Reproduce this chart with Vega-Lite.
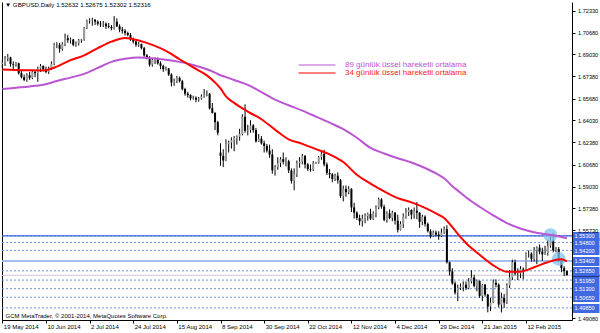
{
"$schema": "https://vega.github.io/schema/vega-lite/v6.json",
"width": 570, "height": 318,
"autosize": {"type": "none"},
"padding": {"left": 2, "top": 2, "right": 28, "bottom": 13},
"background": "white",
"config": {"view": {"stroke": null}, "font": "Liberation Sans", "axis": {"grid": false}},
"title": {"text": "▼ GBPUSD,Daily  1.52632 1.52675 1.52302 1.52316", "anchor": "start", "frame": "group", "offset": -11, "baseline": "alphabetic", "font": "Liberation Sans", "fontSize": 6.2, "fontWeight": "normal", "color": "#000", "dx": 3},
"datasets": {
"levels": [{"level":1.553},{"level":1.548},{"level":1.542},{"level":1.534},{"level":1.5265},{"level":1.5195},{"level":1.513},{"level":1.5065},{"level":1.4985}],
"marks": [{"d":"2015-02-25","p":1.5535},{"d":"2015-03-02","p":1.5355}],
"ema": [
{"d":"2014-05-19","e34":1.6789,"e89":1.6640},
{"d":"2014-05-26","e34":1.6785,"e89":1.6650},
{"d":"2014-06-02","e34":1.6782,"e89":1.6660},
{"d":"2014-06-09","e34":1.6781,"e89":1.6673},
{"d":"2014-06-16","e34":1.6810,"e89":1.6701},
{"d":"2014-06-23","e34":1.6859,"e89":1.6727},
{"d":"2014-06-30","e34":1.6895,"e89":1.6755},
{"d":"2014-07-07","e34":1.6950,"e89":1.6800},
{"d":"2014-07-14","e34":1.6999,"e89":1.6846},
{"d":"2014-07-21","e34":1.7027,"e89":1.6869},
{"d":"2014-07-28","e34":1.7008,"e89":1.6879},
{"d":"2014-08-04","e34":1.6975,"e89":1.6873},
{"d":"2014-08-11","e34":1.6930,"e89":1.6862},
{"d":"2014-08-18","e34":1.6866,"e89":1.6846},
{"d":"2014-08-25","e34":1.6804,"e89":1.6823},
{"d":"2014-09-01","e34":1.6744,"e89":1.6790},
{"d":"2014-09-04","e34":1.6690,"e89":1.6765},
{"d":"2014-09-08","e34":1.6645,"e89":1.6745},
{"d":"2014-09-10","e34":1.6585,"e89":1.6731},
{"d":"2014-09-15","e34":1.6536,"e89":1.6709},
{"d":"2014-09-22","e34":1.6470,"e89":1.6672},
{"d":"2014-09-29","e34":1.6412,"e89":1.6618},
{"d":"2014-10-06","e34":1.6333,"e89":1.6560},
{"d":"2014-10-13","e34":1.6260,"e89":1.6518},
{"d":"2014-10-20","e34":1.6226,"e89":1.6477},
{"d":"2014-10-26","e34":1.6186,"e89":1.6432},
{"d":"2014-10-31","e34":1.6146,"e89":1.6386},
{"d":"2014-11-07","e34":1.6088,"e89":1.6337},
{"d":"2014-11-14","e34":1.5992,"e89":1.6272},
{"d":"2014-11-21","e34":1.5925,"e89":1.6195},
{"d":"2014-11-28","e34":1.5866,"e89":1.6153},
{"d":"2014-12-05","e34":1.5815,"e89":1.6117},
{"d":"2014-12-12","e34":1.5783,"e89":1.6085},
{"d":"2014-12-19","e34":1.5742,"e89":1.6043},
{"d":"2014-12-29","e34":1.5689,"e89":1.5991},
{"d":"2014-12-31","e34":1.5665,"e89":1.5965},
{"d":"2015-01-06","e34":1.5595,"e89":1.5905},
{"d":"2015-01-08","e34":1.5545,"e89":1.5872},
{"d":"2015-01-13","e34":1.5476,"e89":1.5822},
{"d":"2015-01-20","e34":1.5387,"e89":1.5750},
{"d":"2015-01-27","e34":1.5307,"e89":1.5685},
{"d":"2015-02-03","e34":1.5259,"e89":1.5626},
{"d":"2015-02-10","e34":1.5259,"e89":1.5585},
{"d":"2015-02-17","e34":1.5292,"e89":1.5557},
{"d":"2015-02-24","e34":1.5330,"e89":1.5540},
{"d":"2015-03-03","e34":1.5352,"e89":1.5521},
{"d":"2015-03-05","e34":1.5336,"e89":1.5511}
],
"bars": [
{"d":"2014-05-19","o":1.6830,"h":1.6860,"l":1.6800,"c":1.6840},
{"d":"2014-05-20","o":1.6840,"h":1.6890,"l":1.6815,"c":1.6870},
{"d":"2014-05-21","o":1.6870,"h":1.6905,"l":1.6850,"c":1.6880},
{"d":"2014-05-22","o":1.6880,"h":1.6885,"l":1.6810,"c":1.6830},
{"d":"2014-05-23","o":1.6830,"h":1.6850,"l":1.6780,"c":1.6825},
{"d":"2014-05-26","o":1.6825,"h":1.6845,"l":1.6810,"c":1.6835},
{"d":"2014-05-27","o":1.6835,"h":1.6840,"l":1.6750,"c":1.6760},
{"d":"2014-05-28","o":1.6760,"h":1.6780,"l":1.6720,"c":1.6730},
{"d":"2014-05-29","o":1.6730,"h":1.6750,"l":1.6700,"c":1.6710},
{"d":"2014-05-30","o":1.6710,"h":1.6760,"l":1.6695,"c":1.6745},
{"d":"2014-06-02","o":1.6745,"h":1.6770,"l":1.6710,"c":1.6725},
{"d":"2014-06-03","o":1.6725,"h":1.6785,"l":1.6715,"c":1.6770},
{"d":"2014-06-04","o":1.6770,"h":1.6780,"l":1.6730,"c":1.6760},
{"d":"2014-06-05","o":1.6760,"h":1.6810,"l":1.6695,"c":1.6795},
{"d":"2014-06-06","o":1.6795,"h":1.6830,"l":1.6770,"c":1.6815},
{"d":"2014-06-09","o":1.6815,"h":1.6820,"l":1.6775,"c":1.6790},
{"d":"2014-06-10","o":1.6790,"h":1.6810,"l":1.6760,"c":1.6770},
{"d":"2014-06-11","o":1.6770,"h":1.6810,"l":1.6755,"c":1.6795},
{"d":"2014-06-12","o":1.6795,"h":1.6850,"l":1.6785,"c":1.6830},
{"d":"2014-06-13","o":1.6830,"h":1.6990,"l":1.6820,"c":1.6975},
{"d":"2014-06-16","o":1.6975,"h":1.6995,"l":1.6950,"c":1.6975},
{"d":"2014-06-17","o":1.6975,"h":1.6990,"l":1.6915,"c":1.6945},
{"d":"2014-06-18","o":1.6945,"h":1.6995,"l":1.6930,"c":1.6980},
{"d":"2014-06-19","o":1.6980,"h":1.7060,"l":1.6965,"c":1.7025},
{"d":"2014-06-20","o":1.7025,"h":1.7050,"l":1.6990,"c":1.7010},
{"d":"2014-06-23","o":1.7010,"h":1.7030,"l":1.6985,"c":1.7015},
{"d":"2014-06-24","o":1.7015,"h":1.7020,"l":1.6965,"c":1.6975},
{"d":"2014-06-25","o":1.6975,"h":1.7000,"l":1.6960,"c":1.6985},
{"d":"2014-06-26","o":1.6985,"h":1.7020,"l":1.6970,"c":1.7010},
{"d":"2014-06-27","o":1.7010,"h":1.7020,"l":1.6990,"c":1.7015},
{"d":"2014-06-30","o":1.7015,"h":1.7110,"l":1.7005,"c":1.7105},
{"d":"2014-07-01","o":1.7105,"h":1.7165,"l":1.7095,"c":1.7155},
{"d":"2014-07-02","o":1.7155,"h":1.7175,"l":1.7135,"c":1.7160},
{"d":"2014-07-03","o":1.7160,"h":1.7180,"l":1.7120,"c":1.7165},
{"d":"2014-07-04","o":1.7165,"h":1.7170,"l":1.7125,"c":1.7150},
{"d":"2014-07-07","o":1.7150,"h":1.7160,"l":1.7120,"c":1.7135},
{"d":"2014-07-08","o":1.7135,"h":1.7155,"l":1.7110,"c":1.7130},
{"d":"2014-07-09","o":1.7130,"h":1.7155,"l":1.7110,"c":1.7135},
{"d":"2014-07-10","o":1.7135,"h":1.7145,"l":1.7095,"c":1.7115},
{"d":"2014-07-11","o":1.7115,"h":1.7140,"l":1.7100,"c":1.7110},
{"d":"2014-07-14","o":1.7110,"h":1.7125,"l":1.7085,"c":1.7100},
{"d":"2014-07-15","o":1.7100,"h":1.7192,"l":1.7090,"c":1.7150},
{"d":"2014-07-16","o":1.7150,"h":1.7175,"l":1.7110,"c":1.7115},
{"d":"2014-07-17","o":1.7115,"h":1.7130,"l":1.7070,"c":1.7090},
{"d":"2014-07-18","o":1.7090,"h":1.7110,"l":1.7060,"c":1.7080},
{"d":"2014-07-21","o":1.7080,"h":1.7095,"l":1.7045,"c":1.7065},
{"d":"2014-07-22","o":1.7065,"h":1.7075,"l":1.7040,"c":1.7050},
{"d":"2014-07-23","o":1.7050,"h":1.7065,"l":1.7005,"c":1.7015},
{"d":"2014-07-24","o":1.7015,"h":1.7030,"l":1.6985,"c":1.7000},
{"d":"2014-07-25","o":1.7000,"h":1.7010,"l":1.6960,"c":1.6975},
{"d":"2014-07-28","o":1.6975,"h":1.6995,"l":1.6960,"c":1.6980},
{"d":"2014-07-29","o":1.6980,"h":1.6985,"l":1.6940,"c":1.6950},
{"d":"2014-07-30","o":1.6950,"h":1.6960,"l":1.6885,"c":1.6895},
{"d":"2014-07-31","o":1.6895,"h":1.6905,"l":1.6865,"c":1.6875},
{"d":"2014-08-01","o":1.6875,"h":1.6890,"l":1.6810,"c":1.6825},
{"d":"2014-08-04","o":1.6825,"h":1.6875,"l":1.6810,"c":1.6860},
{"d":"2014-08-05","o":1.6860,"h":1.6880,"l":1.6830,"c":1.6870},
{"d":"2014-08-06","o":1.6870,"h":1.6880,"l":1.6825,"c":1.6835},
{"d":"2014-08-07","o":1.6835,"h":1.6850,"l":1.6790,"c":1.6815},
{"d":"2014-08-08","o":1.6815,"h":1.6825,"l":1.6770,"c":1.6790},
{"d":"2014-08-11","o":1.6790,"h":1.6810,"l":1.6780,"c":1.6795},
{"d":"2014-08-12","o":1.6795,"h":1.6800,"l":1.6740,"c":1.6750},
{"d":"2014-08-13","o":1.6750,"h":1.6760,"l":1.6660,"c":1.6690},
{"d":"2014-08-14","o":1.6690,"h":1.6720,"l":1.6665,"c":1.6700},
{"d":"2014-08-15","o":1.6700,"h":1.6740,"l":1.6685,"c":1.6725},
{"d":"2014-08-18","o":1.6725,"h":1.6735,"l":1.6690,"c":1.6700},
{"d":"2014-08-19","o":1.6700,"h":1.6710,"l":1.6630,"c":1.6640},
{"d":"2014-08-20","o":1.6640,"h":1.6650,"l":1.6590,"c":1.6605},
{"d":"2014-08-21","o":1.6605,"h":1.6620,"l":1.6575,"c":1.6595},
{"d":"2014-08-22","o":1.6595,"h":1.6600,"l":1.6555,"c":1.6570},
{"d":"2014-08-25","o":1.6570,"h":1.6590,"l":1.6560,"c":1.6575},
{"d":"2014-08-26","o":1.6575,"h":1.6585,"l":1.6540,"c":1.6560},
{"d":"2014-08-27","o":1.6560,"h":1.6580,"l":1.6545,"c":1.6570},
{"d":"2014-08-28","o":1.6570,"h":1.6600,"l":1.6560,"c":1.6585},
{"d":"2014-08-29","o":1.6585,"h":1.6640,"l":1.6575,"c":1.6600},
{"d":"2014-09-01","o":1.6600,"h":1.6630,"l":1.6585,"c":1.6605},
{"d":"2014-09-02","o":1.6605,"h":1.6610,"l":1.6485,"c":1.6495},
{"d":"2014-09-03","o":1.6495,"h":1.6535,"l":1.6455,"c":1.6460},
{"d":"2014-09-04","o":1.6460,"h":1.6465,"l":1.6330,"c":1.6390},
{"d":"2014-09-05","o":1.6390,"h":1.6400,"l":1.6290,"c":1.6310},
{"d":"2014-09-08","o":1.6160,"h":1.6230,"l":1.6060,"c":1.6135},
{"d":"2014-09-09","o":1.6135,"h":1.6185,"l":1.6050,"c":1.6100},
{"d":"2014-09-10","o":1.6100,"h":1.6260,"l":1.6095,"c":1.6225},
{"d":"2014-09-11","o":1.6225,"h":1.6250,"l":1.6160,"c":1.6235},
{"d":"2014-09-12","o":1.6235,"h":1.6275,"l":1.6190,"c":1.6255},
{"d":"2014-09-15","o":1.6255,"h":1.6285,"l":1.6170,"c":1.6270},
{"d":"2014-09-16","o":1.6270,"h":1.6290,"l":1.6220,"c":1.6280},
{"d":"2014-09-17","o":1.6280,"h":1.6340,"l":1.6250,"c":1.6300},
{"d":"2014-09-18","o":1.6300,"h":1.6450,"l":1.6290,"c":1.6430},
{"d":"2014-09-19","o":1.6430,"h":1.6525,"l":1.6310,"c":1.6325},
{"d":"2014-09-22","o":1.6325,"h":1.6370,"l":1.6290,"c":1.6330},
{"d":"2014-09-23","o":1.6330,"h":1.6405,"l":1.6310,"c":1.6365},
{"d":"2014-09-24","o":1.6365,"h":1.6375,"l":1.6310,"c":1.6330},
{"d":"2014-09-25","o":1.6330,"h":1.6345,"l":1.6235,"c":1.6245},
{"d":"2014-09-26","o":1.6245,"h":1.6300,"l":1.6240,"c":1.6265},
{"d":"2014-09-29","o":1.6265,"h":1.6285,"l":1.6220,"c":1.6230},
{"d":"2014-09-30","o":1.6230,"h":1.6250,"l":1.6160,"c":1.6210},
{"d":"2014-10-01","o":1.6210,"h":1.6225,"l":1.6160,"c":1.6175},
{"d":"2014-10-02","o":1.6175,"h":1.6220,"l":1.6120,"c":1.6145},
{"d":"2014-10-03","o":1.6145,"h":1.6185,"l":1.6000,"c":1.6025},
{"d":"2014-10-06","o":1.6025,"h":1.6065,"l":1.5985,"c":1.6050},
{"d":"2014-10-07","o":1.6050,"h":1.6125,"l":1.6030,"c":1.6080},
{"d":"2014-10-08","o":1.6080,"h":1.6125,"l":1.6050,"c":1.6110},
{"d":"2014-10-09","o":1.6110,"h":1.6160,"l":1.6070,"c":1.6090},
{"d":"2014-10-10","o":1.6090,"h":1.6125,"l":1.6055,"c":1.6095},
{"d":"2014-10-13","o":1.6095,"h":1.6105,"l":1.6005,"c":1.6025},
{"d":"2014-10-14","o":1.6025,"h":1.6040,"l":1.5925,"c":1.5945},
{"d":"2014-10-15","o":1.5945,"h":1.6040,"l":1.5875,"c":1.5995},
{"d":"2014-10-16","o":1.5995,"h":1.6100,"l":1.5975,"c":1.6080},
{"d":"2014-10-17","o":1.6080,"h":1.6125,"l":1.6045,"c":1.6090},
{"d":"2014-10-20","o":1.6090,"h":1.6150,"l":1.6070,"c":1.6135},
{"d":"2014-10-21","o":1.6135,"h":1.6140,"l":1.6040,"c":1.6070},
{"d":"2014-10-22","o":1.6070,"h":1.6080,"l":1.6020,"c":1.6035},
{"d":"2014-10-23","o":1.6035,"h":1.6070,"l":1.6015,"c":1.6030},
{"d":"2014-10-24","o":1.6030,"h":1.6095,"l":1.6020,"c":1.6080},
{"d":"2014-10-26","o":1.6080,"h":1.6090,"l":1.6075,"c":1.6085},
{"d":"2014-10-27","o":1.6085,"h":1.6135,"l":1.6075,"c":1.6125},
{"d":"2014-10-28","o":1.6125,"h":1.6165,"l":1.6105,"c":1.6150},
{"d":"2014-10-29","o":1.6150,"h":1.6180,"l":1.6055,"c":1.6070},
{"d":"2014-10-30","o":1.6070,"h":1.6085,"l":1.5990,"c":1.6005},
{"d":"2014-10-31","o":1.6005,"h":1.6035,"l":1.5965,"c":1.5995},
{"d":"2014-11-03","o":1.5995,"h":1.6005,"l":1.5935,"c":1.5960},
{"d":"2014-11-04","o":1.5960,"h":1.6000,"l":1.5945,"c":1.5985},
{"d":"2014-11-05","o":1.5985,"h":1.6010,"l":1.5925,"c":1.5950},
{"d":"2014-11-06","o":1.5950,"h":1.5960,"l":1.5815,"c":1.5830},
{"d":"2014-11-07","o":1.5830,"h":1.5910,"l":1.5790,"c":1.5885},
{"d":"2014-11-10","o":1.5885,"h":1.5910,"l":1.5825,"c":1.5860},
{"d":"2014-11-11","o":1.5860,"h":1.5905,"l":1.5845,"c":1.5885},
{"d":"2014-11-12","o":1.5885,"h":1.5890,"l":1.5710,"c":1.5745},
{"d":"2014-11-13","o":1.5745,"h":1.5780,"l":1.5660,"c":1.5705},
{"d":"2014-11-14","o":1.5705,"h":1.5715,"l":1.5650,"c":1.5665},
{"d":"2014-11-17","o":1.5665,"h":1.5690,"l":1.5610,"c":1.5640},
{"d":"2014-11-18","o":1.5640,"h":1.5690,"l":1.5600,"c":1.5660},
{"d":"2014-11-19","o":1.5660,"h":1.5700,"l":1.5625,"c":1.5680},
{"d":"2014-11-20","o":1.5680,"h":1.5705,"l":1.5645,"c":1.5695},
{"d":"2014-11-21","o":1.5695,"h":1.5735,"l":1.5650,"c":1.5660},
{"d":"2014-11-24","o":1.5660,"h":1.5715,"l":1.5650,"c":1.5700},
{"d":"2014-11-25","o":1.5700,"h":1.5760,"l":1.5670,"c":1.5745},
{"d":"2014-11-26","o":1.5745,"h":1.5820,"l":1.5730,"c":1.5805},
{"d":"2014-11-27","o":1.5805,"h":1.5815,"l":1.5735,"c":1.5750},
{"d":"2014-11-28","o":1.5750,"h":1.5765,"l":1.5640,"c":1.5650},
{"d":"2014-12-01","o":1.5650,"h":1.5715,"l":1.5630,"c":1.5700},
{"d":"2014-12-02","o":1.5700,"h":1.5730,"l":1.5655,"c":1.5665},
{"d":"2014-12-03","o":1.5665,"h":1.5720,"l":1.5640,"c":1.5705},
{"d":"2014-12-04","o":1.5705,"h":1.5710,"l":1.5615,"c":1.5645},
{"d":"2014-12-05","o":1.5645,"h":1.5690,"l":1.5555,"c":1.5575},
{"d":"2014-12-08","o":1.5575,"h":1.5640,"l":1.5570,"c":1.5620},
{"d":"2014-12-09","o":1.5620,"h":1.5700,"l":1.5590,"c":1.5675},
{"d":"2014-12-10","o":1.5675,"h":1.5740,"l":1.5660,"c":1.5710},
{"d":"2014-12-11","o":1.5710,"h":1.5745,"l":1.5680,"c":1.5725},
{"d":"2014-12-12","o":1.5725,"h":1.5730,"l":1.5655,"c":1.5690},
{"d":"2014-12-15","o":1.5690,"h":1.5745,"l":1.5660,"c":1.5720},
{"d":"2014-12-16","o":1.5720,"h":1.5785,"l":1.5655,"c":1.5705},
{"d":"2014-12-17","o":1.5705,"h":1.5710,"l":1.5590,"c":1.5635},
{"d":"2014-12-18","o":1.5635,"h":1.5690,"l":1.5610,"c":1.5675},
{"d":"2014-12-19","o":1.5675,"h":1.5685,"l":1.5600,"c":1.5620},
{"d":"2014-12-22","o":1.5620,"h":1.5630,"l":1.5555,"c":1.5565},
{"d":"2014-12-23","o":1.5565,"h":1.5580,"l":1.5510,"c":1.5525},
{"d":"2014-12-24","o":1.5525,"h":1.5570,"l":1.5520,"c":1.5555},
{"d":"2014-12-26","o":1.5555,"h":1.5570,"l":1.5525,"c":1.5540},
{"d":"2014-12-29","o":1.5540,"h":1.5565,"l":1.5500,"c":1.5530},
{"d":"2014-12-30","o":1.5530,"h":1.5585,"l":1.5520,"c":1.5555},
{"d":"2014-12-31","o":1.5555,"h":1.5600,"l":1.5545,"c":1.5580},
{"d":"2015-01-02","o":1.5580,"h":1.5610,"l":1.5320,"c":1.5330},
{"d":"2015-01-05","o":1.5330,"h":1.5335,"l":1.5230,"c":1.5260},
{"d":"2015-01-06","o":1.5260,"h":1.5285,"l":1.5160,"c":1.5170},
{"d":"2015-01-07","o":1.5170,"h":1.5185,"l":1.5085,"c":1.5100},
{"d":"2015-01-08","o":1.5100,"h":1.5160,"l":1.5035,"c":1.5135},
{"d":"2015-01-09","o":1.5135,"h":1.5170,"l":1.5120,"c":1.5145},
{"d":"2015-01-12","o":1.5145,"h":1.5185,"l":1.5110,"c":1.5160},
{"d":"2015-01-13","o":1.5160,"h":1.5185,"l":1.5120,"c":1.5135},
{"d":"2015-01-14","o":1.5135,"h":1.5210,"l":1.5125,"c":1.5185},
{"d":"2015-01-15","o":1.5185,"h":1.5270,"l":1.5170,"c":1.5215},
{"d":"2015-01-16","o":1.5215,"h":1.5235,"l":1.5140,"c":1.5150},
{"d":"2015-01-19","o":1.5150,"h":1.5200,"l":1.5110,"c":1.5190},
{"d":"2015-01-20","o":1.5190,"h":1.5190,"l":1.5060,"c":1.5075},
{"d":"2015-01-21","o":1.5075,"h":1.5165,"l":1.5035,"c":1.5160},
{"d":"2015-01-22","o":1.5160,"h":1.5165,"l":1.5070,"c":1.5085},
{"d":"2015-01-23","o":1.5085,"h":1.5090,"l":1.4951,"c":1.4995},
{"d":"2015-01-26","o":1.4995,"h":1.5060,"l":1.4960,"c":1.5025},
{"d":"2015-01-27","o":1.5025,"h":1.5200,"l":1.5020,"c":1.5175},
{"d":"2015-01-28","o":1.5175,"h":1.5200,"l":1.5140,"c":1.5160},
{"d":"2015-01-29","o":1.5160,"h":1.5170,"l":1.4990,"c":1.5010},
{"d":"2015-01-30","o":1.5010,"h":1.5100,"l":1.4950,"c":1.5060},
{"d":"2015-02-02","o":1.5060,"h":1.5090,"l":1.4985,"c":1.5025},
{"d":"2015-02-03","o":1.5025,"h":1.5170,"l":1.5015,"c":1.5155},
{"d":"2015-02-04","o":1.5155,"h":1.5270,"l":1.5135,"c":1.5215},
{"d":"2015-02-05","o":1.5215,"h":1.5350,"l":1.5195,"c":1.5330},
{"d":"2015-02-06","o":1.5330,"h":1.5350,"l":1.5230,"c":1.5245},
{"d":"2015-02-09","o":1.5245,"h":1.5285,"l":1.5195,"c":1.5245},
{"d":"2015-02-10","o":1.5245,"h":1.5300,"l":1.5210,"c":1.5280},
{"d":"2015-02-11","o":1.5280,"h":1.5290,"l":1.5200,"c":1.5275},
{"d":"2015-02-12","o":1.5275,"h":1.5405,"l":1.5270,"c":1.5395},
{"d":"2015-02-13","o":1.5395,"h":1.5420,"l":1.5365,"c":1.5395},
{"d":"2015-02-16","o":1.5395,"h":1.5405,"l":1.5335,"c":1.5355},
{"d":"2015-02-17","o":1.5355,"h":1.5445,"l":1.5335,"c":1.5420},
{"d":"2015-02-18","o":1.5420,"h":1.5450,"l":1.5315,"c":1.5440},
{"d":"2015-02-19","o":1.5440,"h":1.5465,"l":1.5390,"c":1.5410},
{"d":"2015-02-20","o":1.5410,"h":1.5440,"l":1.5340,"c":1.5390},
{"d":"2015-02-23","o":1.5390,"h":1.5455,"l":1.5385,"c":1.5400},
{"d":"2015-02-24","o":1.5400,"h":1.5500,"l":1.5380,"c":1.5455},
{"d":"2015-02-25","o":1.5455,"h":1.5525,"l":1.5440,"c":1.5495},
{"d":"2015-02-26","o":1.5495,"h":1.5552,"l":1.5405,"c":1.5420},
{"d":"2015-02-27","o":1.5420,"h":1.5445,"l":1.5405,"c":1.5430},
{"d":"2015-03-02","o":1.5430,"h":1.5445,"l":1.5330,"c":1.5340},
{"d":"2015-03-03","o":1.5340,"h":1.5360,"l":1.5255,"c":1.5285},
{"d":"2015-03-04","o":1.5285,"h":1.5300,"l":1.5225,"c":1.5263},
{"d":"2015-03-05","o":1.52632,"h":1.52675,"l":1.52302,"c":1.52316}
]
},
"layer": [
{"data": {"name": "levels"},
 "mark": {"type": "rule", "color": "#6f8fec", "strokeWidth": 1, "strokeDash": [2, 2]},
 "encoding": {"y": {"field": "level", "type": "quantitative", "scale": {"domain": [1.4893, 1.7299], "nice": false, "zero": false},
   "axis": {"orient": "left", "labels": false, "ticks": false, "domain": true, "domainColor": "#000", "title": null, "grid": false}}}},
{"data": {"name": "levels"},
 "transform": [{"filter": "datum.level == 1.553"}],
 "mark": {"type": "rule", "color": "#3563dc", "strokeWidth": 1.2},
 "encoding": {"y": {"field": "level", "type": "quantitative", "scale": {"domain": [1.4893, 1.7299], "nice": false, "zero": false}, "axis": null}}},
{"data": {"name": "levels"},
 "transform": [{"filter": "datum.level == 1.534"}],
 "mark": {"type": "rule", "color": "#a4bdf2", "strokeWidth": 2},
 "encoding": {"y": {"field": "level", "type": "quantitative", "scale": {"domain": [1.4893, 1.7299], "nice": false, "zero": false}, "axis": null}}},
{"data": {"name": "bars"},
 "transform": [{"filter": "datum.d == '2015-03-05'"}],
 "mark": {"type": "rule", "color": "#c8c8c8", "strokeWidth": 1},
 "encoding": {"y": {"field": "c", "type": "quantitative", "scale": {"domain": [1.4893, 1.7299], "nice": false, "zero": false}, "axis": null}}},
{"encoding": {"x": {"field": "d", "type": "ordinal", "scale": {"type": "point", "padding": 3.35, "align": 0.06},
   "axis": {"values": ["2014-05-19","2014-06-10","2014-07-02","2014-07-24","2014-08-15","2014-09-08","2014-09-30","2014-10-22","2014-11-12","2014-12-04","2014-12-29","2015-01-21","2015-02-12"],
     "labelExpr": "utcFormat(toDate(datum.value), '%-d %b %Y')",
     "labelAlign": "left", "labelAngle": 0, "labelPadding": 0, "labelBaseline": "top", "labelOffset": 1,
     "tickSize": 3, "tickColor": "#000", "domainColor": "#000", "labelColor": "#000",
     "labelFontSize": 6, "labelFont": "Liberation Sans", "labelOverlap": false, "labelBound": false, "grid": false,
     "title": "GCM MetaTrader, © 2001-2014, MetaQuotes Software Corp.",
     "titleX": 3, "titleY": -3, "titleAlign": "left", "titleAnchor": "start", "titleBaseline": "alphabetic",
     "titleFontSize": 6, "titleFontWeight": "normal", "titleColor": "#000", "titleFont": "Liberation Sans"}}},
 "layer": [
  {"data": {"name": "bars"},
   "mark": {"type": "rule", "color": "#000", "strokeWidth": 1},
   "encoding": {
    "y": {"field": "h", "type": "quantitative", "scale": {"domain": [1.4893, 1.7299], "nice": false, "zero": false},
     "axis": {"orient": "right", "title": null, "grid": false, "format": ".5f",
      "values": [1.7233,1.7068,1.6903,1.6738,1.6568,1.6403,1.6238,1.6068,1.5903,1.5738,1.5573,1.4908,1.553,1.548,1.542,1.534,1.5265,1.5195,1.513,1.5065,1.4985,1.52316],
      "labelOverlap": false, "labelBound": false, "labelFlush": false,
      "labelFontSize": 5.6, "labelFont": "Liberation Sans", "labelBaseline": "middle", "labelAlign": "left",
      "domainColor": "#000",
      "labelColor": {"condition": {"test": "indexof([1.553,1.548,1.542,1.534,1.5265,1.5195,1.513,1.5065,1.4985], datum.value) >= 0", "value": "#ffffff"}, "value": "#000000"},
      "labelOpacity": {"condition": {"test": "datum.value == 1.52316", "value": 0}, "value": 1},
      "tickColor": {"condition": {"test": "indexof([1.553,1.548,1.542,1.534,1.5265,1.5195,1.513,1.5065,1.4985], datum.value) >= 0", "value": "#4169e1"}, "value": "#000000"},
      "tickSize": {"condition": {"test": "indexof([1.553,1.548,1.542,1.534,1.5265,1.5195,1.513,1.5065,1.4985,1.52316], datum.value) >= 0", "value": 27}, "value": 3},
      "tickWidth": {"condition": [{"test": "indexof([1.553,1.548,1.542,1.534,1.5265,1.5195,1.513,1.5065,1.4985], datum.value) >= 0", "value": 9}, {"test": "datum.value == 1.52316", "value": 2}], "value": 1},
      "labelPadding": {"condition": {"test": "indexof([1.553,1.548,1.542,1.534,1.5265,1.5195,1.513,1.5065,1.4985,1.52316], datum.value) >= 0", "value": -25}, "value": 2.5}}},
    "y2": {"field": "l"}}},
  {"data": {"name": "bars"},
   "mark": {"type": "rule", "strokeWidth": 2},
   "encoding": {
    "y": {"field": "o", "type": "quantitative", "scale": {"domain": [1.4893, 1.7299], "nice": false, "zero": false}, "axis": null},
    "y2": {"field": "c"},
    "color": {"condition": {"test": "datum.c >= datum.o", "value": "#9a9a9a"}, "value": "#000000"}}},
  {"data": {"name": "marks"},
   "mark": {"type": "point", "shape": "circle", "filled": true, "size": 190, "color": "#7cc3ee", "opacity": 0.75},
   "encoding": {"y": {"field": "p", "type": "quantitative", "scale": {"domain": [1.4893, 1.7299], "nice": false, "zero": false}, "axis": null}}},
  {"data": {"name": "ema"},
   "mark": {"type": "line", "strokeWidth": 2, "interpolate": "monotone"},
   "encoding": {
    "y": {"field": "e89", "type": "quantitative", "scale": {"domain": [1.4893, 1.7299], "nice": false, "zero": false}, "axis": null},
    "color": {"datum": "89 günlük üssel hareketli ortalama", "type": "nominal", "scale": {"range": ["#ba55d3"]},
     "legend": {"orient": "none", "legendX": 296, "legendY": 44, "title": null, "symbolType": "stroke", "symbolSize": 1369, "symbolStrokeWidth": 1,
      "labelFontSize": 8, "labelFont": "Liberation Sans", "labelColor": "#ba55d3", "labelOffset": 9, "padding": 0, "labelLimit": 300}}}},
  {"data": {"name": "ema"},
   "mark": {"type": "line", "strokeWidth": 2, "interpolate": "monotone", "color": "#ff0000"},
   "encoding": {
    "y": {"field": "e34", "type": "quantitative", "scale": {"domain": [1.4893, 1.7299], "nice": false, "zero": false}, "axis": null},
    "stroke": {"datum": "34 günlük üssel hareketli ortalama", "type": "nominal", "scale": {"range": ["#ff0000"]},
     "legend": {"orient": "none", "legendX": 296, "legendY": 52, "title": null, "symbolType": "stroke", "symbolSize": 1369, "symbolStrokeWidth": 1, "symbolStrokeColor": "#ff3030",
      "labelFontSize": 8, "labelFont": "Liberation Sans", "labelColor": "#ff2020", "labelOffset": 9, "padding": 0, "labelLimit": 300}}}}
 ],
 "resolve": {"axis": {"y": "independent"}}}
],
"resolve": {"axis": {"y": "independent"}}
}
